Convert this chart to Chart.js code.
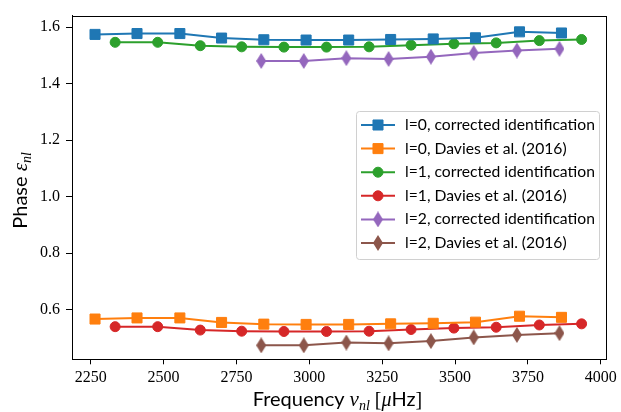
<!DOCTYPE html>
<html>
<head>
<meta charset="utf-8">
<script src="https://cdn.jsdelivr.net/npm/chart.js@4/dist/chart.umd.min.js"></script>
<style>
  html, body { margin: 0; padding: 0; background: #fff; }
  #chart { display: block; }
</style>
</head>
<body>
<canvas id="chart" width="621" height="412"></canvas>
<script>
// ===== DATA =====
const freqL0 = [2265, 2409, 2556, 2699, 2844, 2989, 3135, 3279, 3425, 3570, 3721, 3865];
const freqL1 = [2334, 2480, 2626, 2768, 2913, 3059, 3205, 3349, 3496, 3641, 3789, 3934];
const freqL2 = [2835, 2981, 3127, 3272, 3417, 3564, 3712, 3858];

const phaseL0New    = [1.574, 1.577, 1.577, 1.561, 1.555, 1.554, 1.554, 1.556, 1.558, 1.562, 1.583, 1.579];
const phaseL0Davies = [0.567, 0.571, 0.571, 0.555, 0.549, 0.548, 0.548, 0.550, 0.552, 0.556, 0.577, 0.573];
const phaseL1New    = [1.546, 1.546, 1.534, 1.530, 1.529, 1.529, 1.530, 1.536, 1.541, 1.544, 1.552, 1.556];
const phaseL1Davies = [0.540, 0.540, 0.528, 0.524, 0.523, 0.523, 0.524, 0.530, 0.535, 0.538, 0.546, 0.550];
const phaseL2New    = [1.480, 1.480, 1.490, 1.487, 1.495, 1.508, 1.517, 1.523];
const phaseL2Davies = [0.474, 0.474, 0.484, 0.481, 0.489, 0.502, 0.511, 0.517];

const seriesLabels = [
  'l=0, corrected identification', 'l=0, Davies et al. (2016)',
  'l=1, corrected identification', 'l=1, Davies et al. (2016)',
  'l=2, corrected identification', 'l=2, Davies et al. (2016)'
];
const xTicks = [2250, 2500, 2750, 3000, 3250, 3500, 3750, 4000];
const yTicks = [0.6, 0.8, 1.0, 1.2, 1.4, 1.6];

const SANS = 'Lato, "Open Sans", sans-serif';
const SERIF = '"Liberation Serif", "DejaVu Serif", serif';

// thin diamond marker (matplotlib 'd')
function thinDiamond(color) {
  const c = document.createElement('canvas');
  c.width = 10; c.height = 16;
  const g = c.getContext('2d');
  g.fillStyle = color;
  g.beginPath();
  g.moveTo(5, 0); g.lineTo(10, 8); g.lineTo(5, 16); g.lineTo(0, 8);
  g.closePath(); g.fill();
  return c;
}

function pts(xs, ys) { return xs.map((x, i) => ({ x: x, y: ys[i] })); }

function series(label, xs, ys, color, marker) {
  let style = marker, radius = 5;
  if (marker === 'rect') radius = 7.1;
  if (marker === 'diamond') style = thinDiamond(color);
  return {
    label: label, data: pts(xs, ys),
    borderColor: color, backgroundColor: color, borderWidth: 2,
    pointStyle: style, pointRadius: radius, pointHoverRadius: radius,
    pointBackgroundColor: color, pointBorderColor: color, pointBorderWidth: 1,
    fill: false, tension: 0
  };
}

const datasets = [
  series(seriesLabels[0], freqL0, phaseL0New, '#1f77b4', 'rect'),
  series(seriesLabels[1], freqL0, phaseL0Davies, '#ff7f0e', 'rect'),
  series(seriesLabels[2], freqL1, phaseL1New, '#2ca02c', 'circle'),
  series(seriesLabels[3], freqL1, phaseL1Davies, '#d62728', 'circle'),
  series(seriesLabels[4], freqL2, phaseL2New, '#9467bd', 'diamond'),
  series(seriesLabels[5], freqL2, phaseL2Davies, '#8c564b', 'diamond')
];

// ===== HELPERS =====
function drawRich(ctx, parts, x, y) {
  let w = 0;
  parts.forEach(p => { ctx.font = p.font; w += ctx.measureText(p.t).width; });
  let cx = x - w / 2;
  ctx.textBaseline = 'alphabetic'; ctx.textAlign = 'left';
  parts.forEach(p => {
    ctx.font = p.font;
    ctx.fillText(p.t, cx, y + (p.dy || 0));
    cx += ctx.measureText(p.t).width;
  });
}

const framePlugin = {
  id: 'frame',
  afterDraw(chart) {
    const ctx = chart.ctx, a = chart.chartArea;
    ctx.save();
    ctx.strokeStyle = '#000'; ctx.lineWidth = 1;
    ctx.strokeRect(Math.round(a.left) + 0.5, Math.round(a.top) + 0.5, Math.round(a.right - a.left) - 1, Math.round(a.bottom - a.top) - 1);

    // axis titles
    ctx.fillStyle = '#000';
    drawRich(ctx, [
      { t: 'Frequency ', font: '20px ' + SANS },
      { t: 'ν', font: 'italic 21px ' + SERIF },
      { t: 'nl', font: 'italic 14px ' + SERIF, dy: 4 },
      { t: ' [', font: '20px ' + SERIF },
      { t: 'μ', font: 'italic 20px ' + SERIF },
      { t: 'Hz', font: '20px ' + SANS },
      { t: ']', font: '20px ' + SERIF }
    ], (a.left + a.right) / 2 - 2, 406);
    ctx.save();
    ctx.translate(27, (a.top + a.bottom) / 2 + 3);
    ctx.rotate(-Math.PI / 2);
    drawRich(ctx, [
      { t: 'Phase ', font: '20px ' + SANS },
      { t: 'ε', font: 'italic 21px ' + SERIF },
      { t: 'nl', font: 'italic 14px ' + SERIF, dy: 4 }
    ], 0, 0);
    ctx.restore();

    // legend
    const bx = 356, by = 111, bw = 243, bh = 148;
    ctx.fillStyle = 'rgba(255,255,255,0.85)';
    ctx.strokeStyle = '#d0d0d0';
    ctx.beginPath();
    ctx.roundRect(bx + 0.5, by + 0.5, bw, bh, 3);
    ctx.fill(); ctx.stroke();
    chart.data.datasets.forEach((ds, i) => {
      const y = 125 + i * 23.6;
      ctx.strokeStyle = ds.borderColor; ctx.lineWidth = 2;
      ctx.beginPath(); ctx.moveTo(361, y); ctx.lineTo(395, y); ctx.stroke();
      ctx.fillStyle = ds.backgroundColor; ctx.lineWidth = 1;
      Chart.helpers.drawPoint(ctx, { pointStyle: ds.pointStyle, radius: ds.pointRadius, borderWidth: 1, rotation: 0 }, 378, y);
      ctx.fillStyle = '#000';
      ctx.font = '15.7px ' + SANS;
      ctx.textAlign = 'left'; ctx.textBaseline = 'middle';
      ctx.fillText(ds.label, 405, y);
    });
    ctx.restore();
  }
};

// ===== CHART =====
new Chart(document.getElementById('chart'), {
  type: 'line',
  data: { datasets: datasets },
  options: {
    responsive: false, animation: false, devicePixelRatio: 1,
    layout: { padding: { top: 10.7, right: 13.5, left: 0, bottom: 0 } },
    plugins: { legend: { display: false }, tooltip: { enabled: false } },
    scales: {
      x: {
        type: 'linear', min: 2186, max: 4021,
        afterFit: s => { s.height = 52.7; },
        afterBuildTicks: s => { s.ticks = xTicks.map(v => ({ value: v })); },
        grid: { drawOnChartArea: false, drawTicks: true, tickLength: 5, color: '#000' },
        border: { display: true, color: '#000' },
        ticks: { color: '#000', font: { family: SERIF, size: 16 }, padding: 4, maxRotation: 0, callback: v => String(v) }
      },
      y: {
        type: 'linear', min: 0.4246, max: 1.6405,
        afterFit: s => { s.width = 72; },
        afterBuildTicks: s => { s.ticks = yTicks.map(v => ({ value: v })); },
        grid: { drawOnChartArea: false, drawTicks: true, tickLength: 6, color: '#000' },
        border: { display: true, color: '#000' },
        ticks: { color: '#000', font: { family: SERIF, size: 16 }, padding: 6, callback: v => v.toFixed(1) }
      }
    }
  },
  plugins: [framePlugin]
});
</script>
</body>
</html>
